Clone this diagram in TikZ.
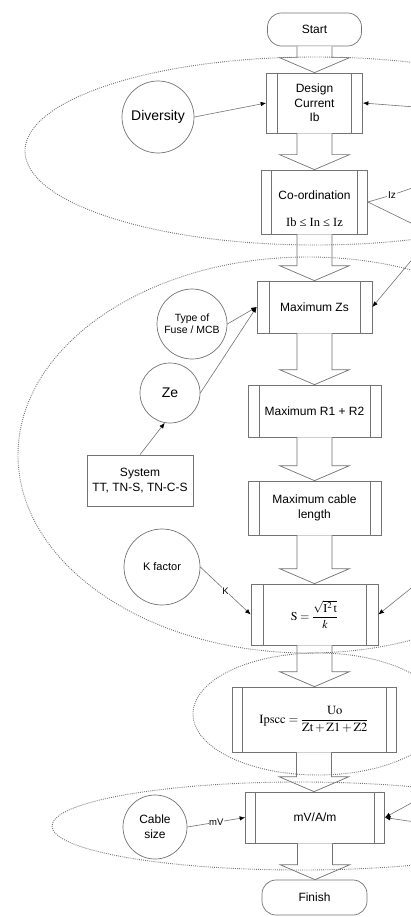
\documentclass[tikz,border=0pt]{standalone}
\usepackage{mathptmx}
\usepackage[no-math]{fontspec}
\setmainfont{Liberation Sans}
\newfontfamily\seriffont{Liberation Serif}
\usetikzlibrary{calc,arrows.meta}
\definecolor{lg}{gray}{0.45}
\definecolor{dg}{gray}{0.45}
\newcommand\blockarr[2]{\draw[barr] let \p1=(#1.south), \p2=(#2.north) in
  (\x1-17.5pt,\y1) -- (\x1-17.5pt,\y2+15pt) -- (\x1-35pt,\y2+15pt) -- (\x1,\y2)
  -- (\x1+35pt,\y2+15pt) -- (\x1+17.5pt,\y2+15pt) -- (\x1+17.5pt,\y1);}
\tikzset{
  lab/.style={font=\fontsize{12}{14.5}\selectfont},
  proc/.style={draw=lg, line width=.7pt, inner sep=1pt, align=center, lab,
    path picture={\draw[lg, line width=.7pt]
      ([xshift=#1]path picture bounding box.north west) -- ([xshift=#1]path picture bounding box.south west)
      ([xshift=-#1]path picture bounding box.north east) -- ([xshift=-#1]path picture bounding box.south east);}},
  proc/.default=11pt,
  term/.style={draw=lg, line width=.7pt, rounded corners=14pt, align=center, lab},
  circ/.style={circle, draw=lg, line width=.7pt, inner sep=0pt, align=center},
  sbox/.style={draw=lg, line width=.7pt, align=center, inner sep=1pt},
  barr/.style={draw=lg, line width=.7pt, fill=white},
  conn/.style={draw=lg, line width=.6pt},
  arr/.style={conn, -{Latex[length=5.5pt,width=4.5pt,color=black]}},
  dots/.style={draw=dg, line width=.9pt, dash pattern=on .9pt off 1.2pt},
  onlab/.style={midway, fill=white, inner sep=.6pt, font=\fontsize{9.5}{11}\selectfont}
}
\begin{document}
\begin{tikzpicture}[x=1pt,y=-1pt]
\useasboundingbox (0,0) rectangle (411,917);
\clip (0,0) rectangle (411,917);
\fill[white] (0,0) rectangle (411,917);

% main column
\node[term, minimum width=94, minimum height=33] (start) at (314.5,29.5) {Start};
\node[proc, minimum width=96, minimum height=60] (design) at (314.5,103) {Design\\Current\\Ib};
\node[proc=10pt, minimum width=106, minimum height=64] (coord) at (314.5,202) {};
\node[lab] (coordt) at (314.5,195) {Co-ordination};
\node[font=\seriffont\fontsize{12.5}{14}\selectfont] (coordf) at (314.5,222) {Ib ≤ In ≤ Iz};
\node[proc=12pt, minimum width=115, minimum height=52] (maxzs) at (314.5,307) {Maximum Zs};
\node[proc, minimum width=133, minimum height=52] (r12) at (314.5,411) {Maximum R1 + R2};
\node[proc, minimum width=133, minimum height=54] (cable) at (314.5,508) {Maximum cable\\length};
\node[proc=12pt, minimum width=127, minimum height=61, font=\fontsize{12}{14}\selectfont] (s) at (314.5,614.5)
  {$\mathrm{S}=\displaystyle\frac{\sqrt{\mathrm{I}^{2}\,\mathrm{t}}}{k}$};
\node[proc=10pt, minimum width=164, minimum height=65, font=\fontsize{12.5}{14}\selectfont] (ipscc) at (314,719.5)
  {$\mathrm{Ipscc}=\displaystyle\frac{\mathrm{Uo}}{\mathrm{Zt}+\mathrm{Z1}+\mathrm{Z2}}$};
\node[proc=10pt, minimum width=139, minimum height=51] (mv) at (315,817.5) {mV/A/m};
\node[term, minimum width=105, minimum height=35] (finish) at (314.5,897.5) {Finish};

% block arrows
\blockarr{start}{design}
\blockarr{design}{coord}
\blockarr{coord}{maxzs}
\blockarr{maxzs}{r12}
\blockarr{r12}{cable}
\blockarr{cable}{s}
\blockarr{s}{ipscc}
\blockarr{ipscc}{mv}
\blockarr{mv}{finish}

% side inputs
\node[circ, minimum size=72, font=\fontsize{14}{17}\selectfont] (div) at (158,117) {Diversity};
\node[circ, minimum size=70, font=\fontsize{10.5}{12}\selectfont] (type) at (192,324) {Type of\\Fuse / MCB};
\node[circ, minimum size=60, font=\fontsize{14}{17}\selectfont] (ze) at (170,393) {Ze};
\node[sbox, minimum width=106, minimum height=51, font=\fontsize{12}{15}\selectfont] (system) at (140,480.5) {System\\TT, TN-S, TN-C-S};
\node[circ, minimum size=76, font=\fontsize{11}{13}\selectfont] (kf) at (162,567) {K factor};
\node[circ, minimum size=64, font=\fontsize{12}{15}\selectfont] (cab) at (155,827) {Cable\\size};
\node[inner sep=1pt, font=\fontsize{10}{12}\selectfont] (iz) at (392,195) {Iz};

% off-picture ends on the right
\coordinate (rd) at (415,107);
\coordinate (riz) at (415,187);
\coordinate (rc) at (415,225);
\coordinate (rz) at (415,256);
\coordinate (rs) at (415,585);
\coordinate (rm1) at (415,801);
\coordinate (rm2) at (415,822);

% connectors
\draw[arr] (div.east) -- (design.west);
\draw[arr] (rd) -- (design.east);
\draw[conn] (coord.east) -- (iz);
\draw[conn] (iz) -- (riz);
\draw[conn] (coord.east) -- (rc);
\draw[arr] (rz) -- (maxzs.east);
\draw[arr] (type.east) -- (maxzs.west);
\draw[arr] (ze.east) -- (maxzs.west);
\draw[arr] (system.north) -- (ze.-100);
\draw[arr] (kf.east) -- node[onlab] {K} (s.west);
\draw[arr] (rs) -- (s.east);
\draw[arr] (cab.east) -- node[onlab] {mV} (mv.west);
\draw[arr] (rm1) -- (mv.east);
\draw[arr] (rm2) -- (mv.east);

% dotted groupings
\draw[dots] (315,151) ellipse [x radius=290pt, y radius=94pt];
\draw[dots] (308,455) ellipse [x radius=290pt, y radius=198pt];
\draw[dots] (318,714) ellipse [x radius=125pt, y radius=61pt];
\draw[dots] (300,826) ellipse [x radius=248pt, y radius=44pt];
\end{tikzpicture}
\end{document}
